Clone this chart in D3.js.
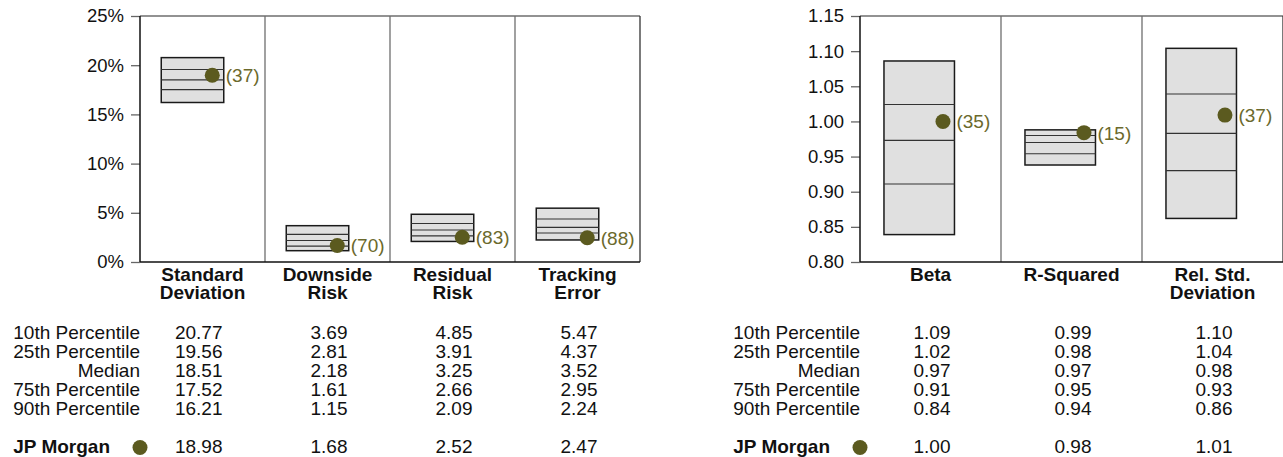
<!DOCTYPE html>
<html>
<head>
<meta charset="utf-8">
<script src="https://cdn.jsdelivr.net/npm/d3@7/dist/d3.min.js"></script>
<style>
  html, body { margin: 0; padding: 0; background: #fff; }
  svg { display: block; font-family: "Liberation Sans", Arial, Helvetica, sans-serif; }
</style>
</head>
<body>
<svg id="chart" width="1283" height="457"></svg>
<script>
// ---------- DATA ----------
const rowLabels = ["10th Percentile", "25th Percentile", "Median", "75th Percentile", "90th Percentile"];
const managerName = "JP Morgan";

// Left panel (percent)
const leftCategories = ["Standard Deviation", "Downside Risk", "Residual Risk", "Tracking Error"];
const leftCategoryLines = [["Standard", "Deviation"], ["Downside", "Risk"], ["Residual", "Risk"], ["Tracking", "Error"]];
const leftP10 = [20.77, 3.69, 4.85, 5.47];
const leftP25 = [19.56, 2.81, 3.91, 4.37];
const leftMedian = [18.51, 2.18, 3.25, 3.52];
const leftP75 = [17.52, 1.61, 2.66, 2.95];
const leftP90 = [16.21, 1.15, 2.09, 2.24];
const leftManager = [18.98, 1.68, 2.52, 2.47];
const leftRank = [37, 70, 83, 88];
const leftTicks = [0, 5, 10, 15, 20, 25];

// Right panel (ratios)
const rightCategories = ["Beta", "R-Squared", "Rel. Std. Deviation"];
const rightCategoryLines = [["Beta"], ["R-Squared"], ["Rel. Std.", "Deviation"]];
const rightP10 = [1.086, 0.988, 1.104];
const rightP25 = [1.024, 0.980, 1.039];
const rightMedian = [0.973, 0.970, 0.983];
const rightP75 = [0.911, 0.954, 0.930];
const rightP90 = [0.839, 0.938, 0.862];
const rightManager = [1.000, 0.984, 1.009];
const rightRank = [35, 15, 37];
const rightTicks = [0.80, 0.85, 0.90, 0.95, 1.00, 1.05, 1.10, 1.15];

// ---------- STYLE ----------
const dotColor = "#5b5a1f";
const rankColor = "#6b692c";
const boxFill = "#e0e0e0";
const fontSize = 19;
const tickFontSize = 18.5;

const svg = d3.select("#chart");

function drawPanel(cfg) {
  const g = svg.append("g");
  const x = d3.scaleBand().domain(cfg.categories).range([cfg.x0, cfg.x1]).paddingInner(0).paddingOuter(0);
  const y = d3.scaleLinear().domain(cfg.domain).range([cfg.yBottom, cfg.yTop]);
  const bw = x.bandwidth();

  // axis with ticks
  const axis = d3.axisLeft(y).tickValues(cfg.ticks).tickSize(9).tickPadding(7).tickFormat(cfg.tickFormat);
  const ag = g.append("g").attr("transform", `translate(${cfg.x0},0)`).call(axis);
  ag.select(".domain").remove();
  ag.selectAll(".tick line").attr("stroke", "#666").attr("stroke-width", 1.3);
  ag.selectAll(".tick text").attr("fill", "#111").style("font-size", tickFontSize + "px")
    .style("font-family", '"Liberation Sans", Arial, sans-serif');

  // top border (gray)
  g.append("line").attr("x1", cfg.x0).attr("x2", cfg.x1).attr("y1", cfg.yTop).attr("y2", cfg.yTop)
    .attr("stroke", "#6e6e6e").attr("stroke-width", 1.3);
  // dividers
  cfg.categories.slice(1).forEach(c => {
    g.append("line").attr("x1", x(c)).attr("x2", x(c)).attr("y1", cfg.yTop).attr("y2", cfg.yBottom)
      .attr("stroke", "#6e6e6e").attr("stroke-width", 1.3);
  });
  // right border
  g.append("line").attr("x1", cfg.x1).attr("x2", cfg.x1).attr("y1", cfg.yTop).attr("y2", cfg.yBottom)
    .attr("stroke", "#333").attr("stroke-width", 1.3);
  // left axis line
  g.append("line").attr("x1", cfg.x0).attr("x2", cfg.x0).attr("y1", cfg.yTop).attr("y2", cfg.yBottom)
    .attr("stroke", "#111").attr("stroke-width", 1.5);
  // bottom axis line
  g.append("line").attr("x1", cfg.x0).attr("x2", cfg.x1).attr("y1", cfg.yBottom).attr("y2", cfg.yBottom)
    .attr("stroke", "#111").attr("stroke-width", 1.5);

  const data = cfg.categories.map((c, i) => ({
    c, i, p10: cfg.p10[i], p25: cfg.p25[i], med: cfg.median[i], p75: cfg.p75[i], p90: cfg.p90[i],
    m: cfg.manager[i], rank: cfg.rank[i]
  }));

  const boxLeft = d => x(d.c) + bw * 0.17;
  const boxW = bw * 0.5;

  // boxes
  g.selectAll("rect.box").data(data).enter().append("rect")
    .attr("x", boxLeft).attr("width", boxW)
    .attr("y", d => y(d.p10)).attr("height", d => y(d.p90) - y(d.p10))
    .attr("fill", boxFill).attr("stroke", "#1a1a1a").attr("stroke-width", 1.5);

  // inner lines
  ["p25", "med", "p75"].forEach(k => {
    g.selectAll("line." + k).data(data).enter().append("line")
      .attr("x1", boxLeft).attr("x2", d => boxLeft(d) + boxW)
      .attr("y1", d => y(d[k])).attr("y2", d => y(d[k]))
      .attr("stroke", "#333").attr("stroke-width", 1.1);
  });

  // manager dots
  const dotX = d => boxLeft(d) + boxW - 11.5;
  g.selectAll("circle.mgr").data(data).enter().append("circle")
    .attr("cx", dotX).attr("cy", d => y(d.m)).attr("r", 7.5).attr("fill", dotColor);
  g.selectAll("text.rank").data(data).enter().append("text")
    .attr("x", d => dotX(d) + 13.5).attr("y", d => y(d.m)).attr("dy", "0.36em")
    .attr("fill", rankColor).style("font-size", fontSize + "px")
    .text(d => `(${d.rank})`);

  // category labels
  data.forEach(d => {
    const t = g.append("text").attr("text-anchor", "middle").attr("font-weight", "bold")
      .style("font-size", fontSize + "px").attr("fill", "#111");
    cfg.catLines[d.i].forEach((ln, j) => {
      t.append("tspan").attr("x", x(d.c) + bw / 2).attr("y", 281 + j * 18).text(ln);
    });
  });

  // table
  const rowBase = [339, 358, 377, 396, 415];
  const series = [cfg.p10, cfg.p25, cfg.median, cfg.p75, cfg.p90];
  rowLabels.forEach((lab, r) => {
    g.append("text").attr("x", cfg.x0).attr("y", rowBase[r]).attr("text-anchor", "end")
      .style("font-size", fontSize + "px").attr("fill", "#111").text(lab);
    data.forEach(d => {
      g.append("text").attr("x", x(d.c) + bw / 2 + 20).attr("y", rowBase[r]).attr("text-anchor", "end")
        .style("font-size", fontSize + "px").attr("fill", "#111").text(series[r][d.i].toFixed(2));
    });
  });
  const mgrBase = 453;
  g.append("text").attr("x", cfg.x0 - 30).attr("y", mgrBase).attr("text-anchor", "end")
    .attr("font-weight", "bold").style("font-size", fontSize + "px").attr("fill", "#111").text(managerName);
  g.append("circle").attr("cx", cfg.x0).attr("cy", 447.5).attr("r", 7.5).attr("fill", dotColor);
  data.forEach(d => {
    g.append("text").attr("x", x(d.c) + bw / 2 + 20).attr("y", mgrBase).attr("text-anchor", "end")
      .style("font-size", fontSize + "px").attr("fill", "#111").text(d.m.toFixed(2));
  });
}

drawPanel({
  categories: leftCategories, catLines: leftCategoryLines,
  p10: leftP10, p25: leftP25, median: leftMedian, p75: leftP75, p90: leftP90,
  manager: leftManager, rank: leftRank, ticks: leftTicks,
  domain: [0, 25], tickFormat: d => d + "%",
  x0: 140, x1: 640, yTop: 16, yBottom: 262
});

drawPanel({
  categories: rightCategories, catLines: rightCategoryLines,
  p10: rightP10, p25: rightP25, median: rightMedian, p75: rightP75, p90: rightP90,
  manager: rightManager, rank: rightRank, ticks: rightTicks,
  domain: [0.80, 1.15], tickFormat: d => d.toFixed(2),
  x0: 860, x1: 1283, yTop: 16, yBottom: 262
});
</script>
</body>
</html>
